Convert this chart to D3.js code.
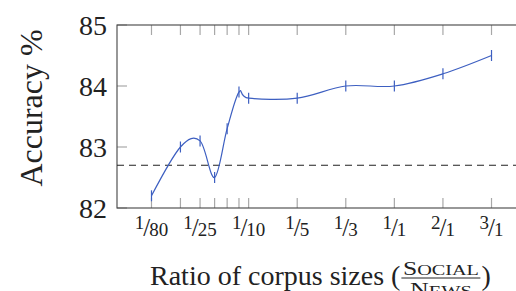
<!DOCTYPE html>
<html>
<head>
<meta charset="utf-8">
<script src="https://cdn.jsdelivr.net/npm/d3@7"></script>
<style>
body { margin: 0; background: #fff; }
text { font-family: "Liberation Serif", "Times New Roman", serif; fill: #222; }
</style>
</head>
<body>
<div id="chart"></div>
<script>
// ratio of corpus sizes (social / news) for each run
const ratios = [1/80, 1/40, 1/25, 1/19, 1/15, 1/12, 1/10, 1/5, 1/3, 1, 2, 3];
const accuracy = [82.2, 83.0, 83.1, 82.5, 83.3, 83.9, 83.8, 83.8, 84.0, 84.0, 84.2, 84.5];
const errors = [0.09, 0.09, 0.09, 0.09, 0.09, 0.09, 0.09, 0.09, 0.09, 0.09, 0.09, 0.09];
const baseline = 82.7;

const majorRatios = [1/80, 1/25, 1/10, 1/5, 1/3, 1, 2, 3];
const majorNum = ["1", "1", "1", "1", "1", "1", "2", "3"];
const majorDen = ["80", "25", "10", "5", "3", "1", "1", "1"];
const yTicks = [82, 83, 84, 85];

const W = 516, H = 291;
const margin = {top: 25, right: -10, bottom: 83, left: 117};
const plotW = W - margin.left - margin.right;
const plotH = H - margin.top - margin.bottom;

const svg = d3.select("#chart").append("svg")
    .attr("width", W)
    .attr("height", H);

const g = svg.append("g")
    .attr("transform", "translate(" + margin.left + "," + margin.top + ")");

// major ticks are evenly spaced, in between it is logarithmic
const xIdx = d3.scaleLinear()
    .domain([-0.71, majorRatios.length - 1 + 0.71])
    .range([0, plotW]);
const x = d3.scaleLog()
    .domain(majorRatios)
    .range(majorRatios.map((d, i) => xIdx(i)));

const y = d3.scaleLinear()
    .domain([82, 85])
    .range([plotH, 0]);

const tickLen = 10;
const tickColor = "#a8a8a8";

// x ticks (bottom and top, pointing inwards)
ratios.forEach(function(r) {
    g.append("line")
        .attr("x1", x(r)).attr("x2", x(r))
        .attr("y1", plotH).attr("y2", plotH - tickLen)
        .attr("stroke", tickColor).attr("stroke-width", 1.2);
    g.append("line")
        .attr("x1", x(r)).attr("x2", x(r))
        .attr("y1", 0).attr("y2", tickLen)
        .attr("stroke", tickColor).attr("stroke-width", 1.2);
});

// y ticks (left and right)
yTicks.forEach(function(t) {
    g.append("line")
        .attr("x1", 0).attr("x2", tickLen)
        .attr("y1", y(t)).attr("y2", y(t))
        .attr("stroke", tickColor).attr("stroke-width", 1.2);
    g.append("line")
        .attr("x1", plotW).attr("x2", plotW - tickLen)
        .attr("y1", y(t)).attr("y2", y(t))
        .attr("stroke", tickColor).attr("stroke-width", 1.2);

    g.append("text")
        .attr("x", -10)
        .attr("y", y(t))
        .attr("dy", "0.35em")
        .attr("text-anchor", "end")
        .style("font-size", "28px")
        .text(t);
});

// axis box
g.append("rect")
    .attr("x", 0).attr("y", 0)
    .attr("width", plotW).attr("height", plotH)
    .attr("fill", "none")
    .attr("stroke", "#444")
    .attr("stroke-width", 1.1);

// baseline
g.append("line")
    .attr("x1", 0).attr("x2", plotW)
    .attr("y1", y(baseline)).attr("y2", y(baseline))
    .attr("stroke", "#222")
    .attr("stroke-width", 1.1)
    .attr("stroke-dasharray", "7,5");

// x tick labels as nice fractions
majorRatios.forEach(function(r, i) {
    let t = g.append("text")
        .attr("x", x(r))
        .attr("y", plotH + 28)
        .attr("text-anchor", "middle");
    t.append("tspan")
        .style("font-size", "19px")
        .attr("dy", -7)
        .text(majorNum[i]);
    t.append("tspan")
        .style("font-size", "25px")
        .attr("dx", -1)
        .attr("dy", 7)
        .text("/");
    t.append("tspan")
        .style("font-size", "19px")
        .attr("dx", -1)
        .text(majorDen[i]);
});

const pts = ratios.map((r, i) => [x(r), y(accuracy[i])]);
const blue = "#3d5fc1";

g.append("path")
    .attr("d", d3.line().curve(d3.curveCardinal.tension(0))(pts))
    .attr("fill", "none")
    .attr("stroke", blue)
    .attr("stroke-width", 1.2);

ratios.forEach(function(r, i) {
    g.append("line")
        .attr("x1", x(r)).attr("x2", x(r))
        .attr("y1", y(accuracy[i] - errors[i]))
        .attr("y2", y(accuracy[i] + errors[i]))
        .attr("stroke", blue)
        .attr("stroke-width", 1.2);
});

// y label
svg.append("text")
    .attr("transform", "translate(42,108) rotate(-90)")
    .attr("text-anchor", "middle")
    .style("font-size", "32px")
    .text("Accuracy %");

// x label with the SOCIAL / NEWS fraction
const xl = svg.append("g").attr("transform", "translate(150,0)");
const t1 = xl.append("text")
    .attr("x", 0).attr("y", 285)
    .style("font-size", "28px")
    .text("Ratio of corpus sizes (");
const w1 = t1.node().getComputedTextLength();

const fw = 79;
const fx = w1 + 1 + fw / 2;
const num = xl.append("text")
    .attr("x", fx).attr("y", 275)
    .attr("text-anchor", "middle");
num.append("tspan").style("font-size", "19px").text("S");
num.append("tspan").style("font-size", "15px").text("OCIAL");
num.attr("textLength", 76).attr("lengthAdjust", "spacingAndGlyphs");

const den = xl.append("text")
    .attr("x", fx).attr("y", 296)
    .attr("text-anchor", "middle");
den.append("tspan").style("font-size", "19px").text("N");
den.append("tspan").style("font-size", "15px").text("EWS");
den.attr("textLength", 62).attr("lengthAdjust", "spacingAndGlyphs");

xl.append("line")
    .attr("x1", w1 + 1).attr("x2", w1 + 1 + fw)
    .attr("y1", 278).attr("y2", 278)
    .attr("stroke", "#222").attr("stroke-width", 1);
xl.append("text")
    .attr("x", w1 + 2 + fw).attr("y", 285)
    .style("font-size", "28px")
    .text(")");
</script>
</body>
</html>
